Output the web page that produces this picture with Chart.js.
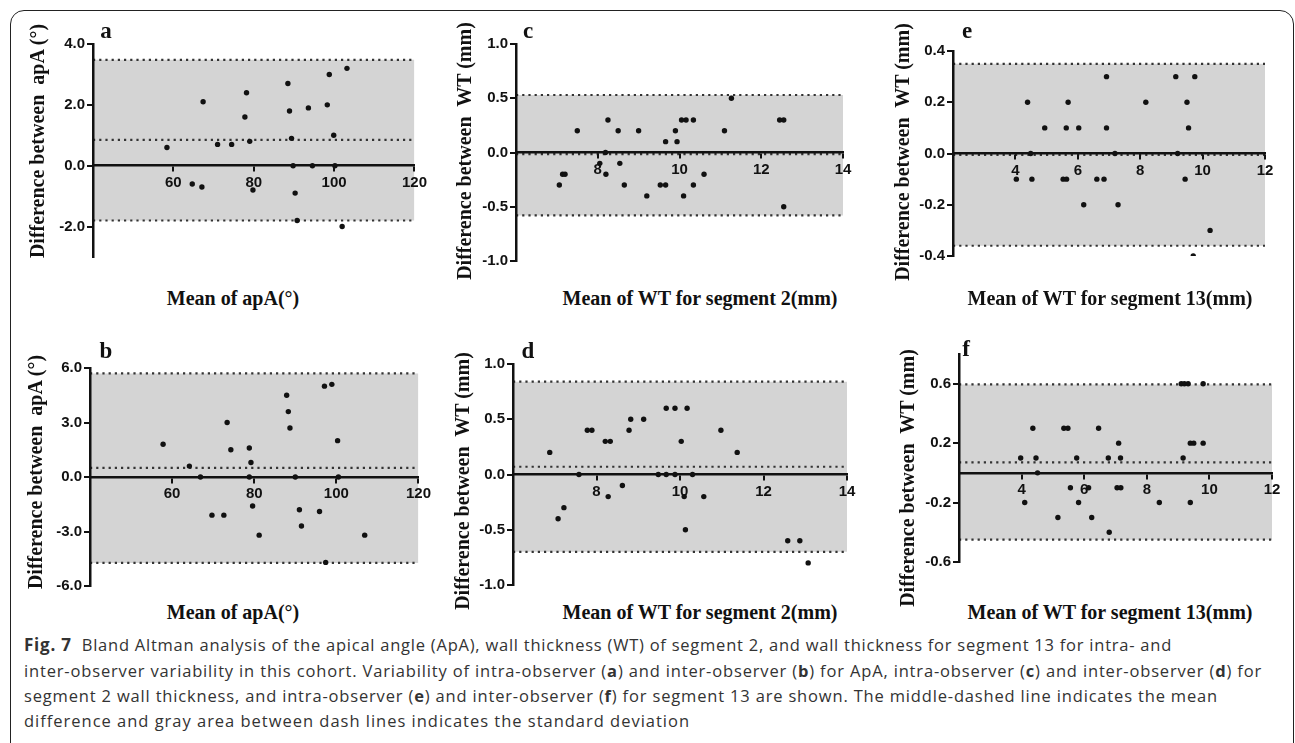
<!DOCTYPE html>
<html>
<head>
<meta charset="utf-8">
<script src="https://cdn.jsdelivr.net/npm/chart.js@4.4.1/dist/chart.umd.min.js"></script>
<style>
  body { margin: 0; width: 1295px; height: 743px; overflow: hidden; background: #fff; position: relative; }
  .frame { position: absolute; left: 10px; top: 10px; width: 1284px; height: 780px; border: 1px solid #222; border-radius: 14px; box-sizing: border-box; }
  canvas { position: absolute; }
  .lbl { position: absolute; transform: translate(-50%, -50%); white-space: pre; color: #111; font-family: "Liberation Serif", serif; font-weight: bold; }
  .letter { font-size: 23px; }
  .xt { font-size: 20px; }
  .yt { font-size: 20px; transform: translate(-50%, -50%) rotate(-90deg); }
  .cap { position: absolute; left: 24px; white-space: nowrap; color: #333; font-family: "Open Sans", sans-serif; font-size: 16.5px; }
  .cap b { font-weight: bold; }
</style>
</head>
<body>
<div class="frame"></div>

<script>
// a: intra-observer, apical angle
const aMean = [58.4, 64.7, 67.1, 67.4, 71.0, 74.5, 77.8, 78.2, 79.0, 79.8, 88.5, 88.9, 89.4, 89.8, 90.3, 90.8, 93.6, 94.6, 98.3, 98.8, 99.9, 100.2, 102.0, 103.2];
const aDiff = [0.6, -0.6, -0.7, 2.1, 0.7, 0.7, 1.6, 2.4, 0.8, -0.8, 2.7, 1.8, 0.9, 0.0, -0.9, -1.8, 1.9, 0.0, 2.0, 3.0, 1.0, 0.0, -2.0, 3.2];
const aLimits = [3.48, 0.85, -1.8];

// b: inter-observer, apical angle
const bMean = [57.8, 64.2, 66.9, 69.7, 72.6, 73.4, 74.3, 78.8, 78.8, 79.2, 79.6, 81.2, 87.9, 88.3, 88.7, 90.0, 91.0, 91.5, 95.9, 97.1, 97.4, 98.9, 100.3, 100.5, 106.9];
const bDiff = [1.8, 0.6, 0.0, -2.1, -2.1, 3.0, 1.5, 1.6, 0.0, 0.8, -1.6, -3.2, 4.5, 3.6, 2.7, 0.0, -1.8, -2.7, -1.9, 5.0, -4.7, 5.1, 2.0, 0.0, -3.2];
const bLimits = [5.7, 0.5, -4.73];

// c: intra-observer, WT segment 2
const cMean = [7.06, 7.14, 7.2, 7.5, 8.05, 8.19, 8.2, 8.25, 8.5, 8.54, 8.65, 9.0, 9.2, 9.53, 9.66, 9.66, 9.9, 9.94, 10.05, 10.1, 10.16, 10.34, 10.34, 10.6, 11.1, 11.27, 12.45, 12.55, 12.55];
const cDiff = [-0.3, -0.2, -0.2, 0.2, -0.1, 0.0, -0.2, 0.3, 0.2, -0.1, -0.3, 0.2, -0.4, -0.3, -0.3, 0.1, 0.2, 0.1, 0.3, -0.4, 0.3, 0.3, -0.3, -0.2, 0.2, 0.5, 0.3, 0.3, -0.5];
const cLimits = [0.53, -0.015, -0.58];

// d: inter-observer, WT segment 2
const dMean = [6.88, 7.08, 7.22, 7.58, 7.78, 7.89, 8.21, 8.28, 8.33, 8.62, 8.78, 8.82, 9.13, 9.48, 9.67, 9.67, 9.88, 9.88, 10.03, 10.1, 10.13, 10.17, 10.3, 10.57, 10.98, 11.37, 12.58, 12.87, 13.07];
const dDiff = [0.2, -0.4, -0.3, 0.0, 0.4, 0.4, 0.3, -0.2, 0.3, -0.1, 0.4, 0.5, 0.5, 0.0, 0.6, 0.0, 0.6, 0.0, 0.3, -0.2, -0.5, 0.6, 0.0, -0.2, 0.4, 0.2, -0.6, -0.6, -0.8];
const dLimits = [0.84, 0.07, -0.70];

// e: intra-observer, WT segment 13
const eMean = [4.03, 4.39, 4.49, 4.53, 4.94, 5.53, 5.63, 5.64, 5.69, 6.03, 6.19, 6.61, 6.84, 6.92, 6.92, 7.19, 7.29, 8.18, 9.14, 9.2, 9.44, 9.5, 9.55, 9.7, 9.75, 10.24];
const eDiff = [-0.1, 0.2, 0.0, -0.1, 0.1, -0.1, 0.1, -0.1, 0.2, 0.1, -0.2, -0.1, -0.1, 0.3, 0.1, 0.0, -0.2, 0.2, 0.3, 0.0, -0.1, 0.2, 0.1, -0.4, 0.3, -0.3];
const eLimits = [0.35, -0.005, -0.36];

// f: inter-observer, WT segment 13
const fMean = [3.97, 4.1, 4.36, 4.46, 4.51, 5.16, 5.35, 5.48, 5.56, 5.76, 5.82, 6.14, 6.24, 6.46, 6.77, 6.8, 7.05, 7.1, 7.16, 7.17, 8.4, 9.1, 9.16, 9.2, 9.32, 9.39, 9.39, 9.5, 9.8, 9.8];
const fDiff = [0.1, -0.2, 0.3, 0.1, 0.0, -0.3, 0.3, 0.3, -0.1, 0.1, -0.2, -0.1, -0.3, 0.3, 0.1, -0.4, -0.1, 0.2, 0.1, -0.1, -0.2, 0.6, 0.1, 0.6, 0.6, -0.2, 0.2, 0.2, 0.6, 0.2];
const fLimits = [0.595, 0.07, -0.45];

// axis ranges and ticks
const apaXTicks = [60, 80, 100, 120];
const seg2XTicks = [8, 10, 12, 14];
const seg13XTicks = [4, 6, 8, 10, 12];
const aYTicks = [-2, 0, 2, 4];
const bYTicks = [-6, -3, 0, 3, 6];
const cdYTicks = [-1, -0.5, 0, 0.5, 1];
const eYTicks = [-0.4, -0.2, 0, 0.2, 0.4];
const fYTicks = [-0.6, -0.2, 0.2, 0.6];

const Y_W = 50, PAD_T = 10, PAD_R = 12, PAD_B = 10;

function addText(cls, text, x, y) {
  const d = document.createElement('div');
  d.className = 'lbl ' + cls;
  d.textContent = text;
  d.style.left = x + 'px';
  d.style.top = y + 'px';
  document.body.appendChild(d);
}

function panel(area, xr, xTicks, yr, yTicks, means, diffs, limits) {
  const cv = document.createElement('canvas');
  const w = area[2] - area[0] + Y_W + PAD_R;
  const h = area[3] - area[1] + PAD_T + PAD_B;
  cv.width = w; cv.height = h;
  cv.style.left = (area[0] - Y_W) + 'px';
  cv.style.top = (area[1] - PAD_T) + 'px';
  document.body.appendChild(cv);

  const limLine = v => ({
    type: 'line',
    data: [{ x: xr[0], y: v }, { x: xr[1], y: v }],
    borderColor: '#333',
    borderWidth: 2.2,
    borderDash: [2.2, 4],
    pointRadius: 0,
    fill: false
  });
  const upper = limLine(limits[0]);
  upper.fill = '+1';
  upper.backgroundColor = '#d4d4d4';

  const tickFont = { family: 'Liberation Sans', weight: 'bold', size: 15 };
  new Chart(cv, {
    type: 'scatter',
    data: {
      datasets: [
        {
          data: means.map((m, i) => ({ x: m, y: diffs[i] })),
          pointRadius: 2.7,
          backgroundColor: '#111',
          borderWidth: 0
        },
        upper,
        limLine(limits[2]),
        limLine(limits[1])
      ]
    },
    options: {
      responsive: false,
      animation: false,
      layout: { padding: { left: 0, top: PAD_T, right: PAD_R, bottom: PAD_B } },
      plugins: {
        legend: { display: false },
        tooltip: { enabled: false },
        filler: { drawTime: 'beforeDatasetsDraw' }
      },
      scales: {
        x: {
          type: 'linear',
          min: xr[0], max: xr[1],
          position: { y: 0 },
          afterBuildTicks: s => { s.ticks = xTicks.map(v => ({ value: v })); },
          ticks: { z: 1, color: '#111', font: tickFont, maxRotation: 0, autoSkip: false, padding: 3 },
          grid: { z: 1, drawOnChartArea: false, drawTicks: true, tickLength: 5, color: '#111', lineWidth: 2 },
          border: { z: 1, display: true, color: '#111', width: 2.5 }
        },
        y: {
          min: yr[0], max: yr[1],
          afterFit: s => { s.width = Y_W; },
          afterBuildTicks: s => { s.ticks = yTicks.map(v => ({ value: v })); },
          ticks: { z: 1, color: '#111', font: tickFont, padding: 2, callback: v => v.toFixed(1) },
          grid: { z: 1, drawOnChartArea: false, drawTicks: true, tickLength: 6, color: '#111', lineWidth: 2 },
          border: { z: 1, display: true, color: '#111', width: 2.5 }
        }
      }
    }
  });
}

panel([93, 43, 418, 258], [40, 120], apaXTicks, [-3, 4], aYTicks, aMean, aDiff, aLimits);
panel([90, 367, 422, 587], [40, 120], apaXTicks, [-6, 6], bYTicks, bMean, bDiff, bLimits);
panel([516, 43, 843, 262], [6, 14], seg2XTicks, [-1, 1], cdYTicks, cMean, cDiff, cLimits);
panel([513, 363, 847, 586], [6, 14], seg2XTicks, [-1, 1], cdYTicks, dMean, dDiff, dLimits);
panel([953, 50, 1265, 257], [2, 12], seg13XTicks, [-0.4, 0.4], eYTicks, eMean, eDiff, eLimits);
panel([959, 353, 1272, 563], [2, 12], seg13XTicks, [-0.6, 0.8], fYTicks, fMean, fDiff, fLimits);

// panel letters
addText('letter', 'a', 106, 31);
addText('letter', 'b', 106, 351);
addText('letter', 'c', 528, 31);
addText('letter', 'd', 528, 351);
addText('letter', 'e', 967, 31);
addText('letter', 'f', 966, 349);

// axis titles
const apaY = 'Difference between  apA (°)';
const wtY = 'Difference between  WT (mm)';
addText('yt', apaY, 37, 141);
addText('yt', apaY, 35, 472);
addText('yt', wtY, 464, 151);
addText('yt', wtY, 462, 481);
addText('yt', wtY, 902, 152);
addText('yt', wtY, 907, 478);
addText('xt', 'Mean of apA(°)', 233, 298);
addText('xt', 'Mean of apA(°)', 233, 612);
addText('xt', 'Mean of WT for segment 2(mm)', 700, 298);
addText('xt', 'Mean of WT for segment 2(mm)', 700, 612);
addText('xt', 'Mean of WT for segment 13(mm)', 1110, 298);
addText('xt', 'Mean of WT for segment 13(mm)', 1110, 612);
</script>

<div class="cap" data-end="1172" style="top:633px"><b style="font-size:17px">Fig. 7</b>&nbsp; Bland Altman analysis of the apical angle (ApA), wall thickness (WT) of segment 2, and wall thickness for segment 13 for intra- and</div>
<div class="cap" data-end="1262" style="top:659px">inter-observer variability in this cohort. Variability of intra-observer (<b>a</b>) and inter-observer (<b>b</b>) for ApA, intra-observer (<b>c</b>) and inter-observer (<b>d</b>) for</div>
<div class="cap" data-end="1218" style="top:684px">segment 2 wall thickness, and intra-observer (<b>e</b>) and inter-observer (<b>f</b>) for segment 13 are shown. The middle-dashed line indicates the mean</div>
<div class="cap" data-end="690" style="top:709px">difference and gray area between dash lines indicates the standard deviation</div>
<script>
// stretch each caption line to the width it has in the figure
document.querySelectorAll('.cap').forEach(el => {
  const target = +el.dataset.end - 24;
  const n = el.textContent.length;
  const w = el.getBoundingClientRect().width;
  el.style.letterSpacing = ((target - w) / n) + 'px';
});
</script>
</body>
</html>
